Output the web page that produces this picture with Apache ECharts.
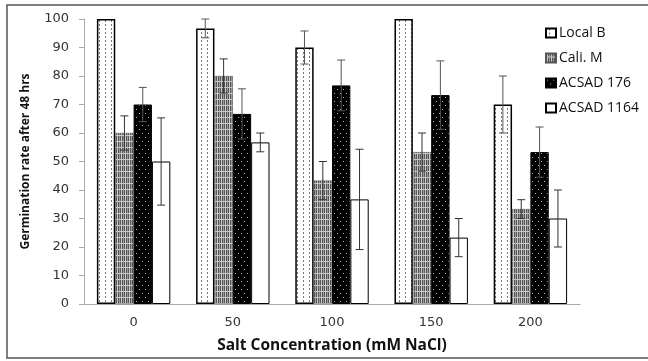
<!DOCTYPE html>
<html><head><meta charset="utf-8">
<script src="https://cdn.jsdelivr.net/npm/echarts@6/dist/echarts.min.js"></script>
<style>html,body{margin:0;padding:0;background:#fff}#c{width:648px;height:361px}</style>
</head><body><div id="c"></div>
<script>
const categories = ['0', '50', '100', '150', '200'];
const seriesNames = ['Local B', 'Cali. M', 'ACSAD 176', 'ACSAD 1164'];
const localB = [100, 96.7, 90, 100, 70];
const caliM = [60, 80, 43.3, 53.3, 33.3];
const acsad176 = [70, 66.7, 76.7, 73.3, 53.3];
const acsad1164 = [50, 56.7, 36.7, 23.3, 30];
const errLocalB = [0, 3.3, 5.8, 0, 10];
const errCaliM = [6, 6, 6.7, 6.7, 3.3];
const errAcsad176 = [6, 8.8, 8.9, 12, 8.8];
const errAcsad1164 = [15.3, 3.3, 17.6, 6.7, 10];
const yTicks = [0, 10, 20, 30, 40, 50, 60, 70, 80, 90, 100];

function pat(w, h, bg, draw) {
  const c = document.createElement('canvas'); c.width = w; c.height = h;
  const g = c.getContext('2d'); g.fillStyle = bg; g.fillRect(0, 0, w, h); draw(g); return c;
}
const patLocal = pat(6, 4, '#ffffff', g => { g.fillStyle = '#777'; g.fillRect(3, 0, 1, 2); });
const patCali = pat(4, 6, '#9a9a9a', g => { g.fillStyle = '#555'; g.fillRect(0, 0, 1, 6); g.fillRect(2, 0, 1, 6); g.fillStyle = '#c8c8c8'; g.fillRect(1, 0, 1, 6); g.fillRect(0, 3, 4, 1); });
const patBlack = pat(6, 8, '#000000', g => { g.fillStyle = '#bbb'; g.fillRect(1, 1, 1, 1); g.fillRect(4, 5, 1, 1); });

const values = [localB, caliM, acsad176, acsad1164];
const errs = [errLocalB, errCaliM, errAcsad176, errAcsad1164];
const styles = [
  { color: { image: patLocal, repeat: 'repeat' }, borderColor: '#000', borderWidth: 1.5 },
  { color: { image: patCali, repeat: 'repeat' }, borderColor: '#555', borderWidth: 0.5 },
  { color: { image: patBlack, repeat: 'repeat' }, borderColor: '#000', borderWidth: 1 },
  { color: '#ffffff', borderColor: '#000', borderWidth: 1 }
];
const gapPct = 0.26;
const series = seriesNames.map((n, i) => ({
  name: n, type: 'bar', data: values[i], barGap: '0%', barCategoryGap: (gapPct * 100) + '%',
  itemStyle: styles[i], z: 2
}));
const errData = [];
errs.forEach((arr, s) => arr.forEach((e, c) => { if (e > 0) errData.push([c, s, values[s][c], e]); }));
series.push({
  type: 'custom', z: 5, silent: true, data: errData,
  renderItem: function (params, api) {
    const c = api.value(0), s = api.value(1), v = api.value(2), e = api.value(3);
    const bw = api.size([1, 0])[0] * (1 - gapPct) / 4;
    const center = api.coord([c, v]);
    const x = center[0] + (s - 1.5) * bw;
    const top = api.coord([c, v + e])[1], bot = api.coord([c, v - e])[1];
    const cap = 4;
    const st = { stroke: s === 1 || s === 3 ? '#333' : '#555', lineWidth: 1 };
    return { type: 'group', children: [
      { type: 'line', shape: { x1: x, y1: top, x2: x, y2: bot }, style: st },
      { type: 'line', shape: { x1: x - cap, y1: top, x2: x + cap, y2: top }, style: st },
      { type: 'line', shape: { x1: x - cap, y1: bot, x2: x + cap, y2: bot }, style: st }
    ]};
  }
});

const chart = echarts.init(document.getElementById('c'));
chart.setOption({
  animation: false,
  backgroundColor: '#fff',
  graphic: [{ type: 'rect', shape: { x: 7, y: 5, width: 660, height: 353 }, style: { fill: 'none', stroke: '#555', lineWidth: 1.5 }, z: -1 }],
  grid: { left: 84, right: 68, top: 19, bottom: 57 },
  legend: {
    orient: 'vertical', left: 540, top: 21, itemWidth: 10, itemHeight: 9, itemGap: 11, icon: 'rect',
    textStyle: { fontFamily: 'Open Sans', fontSize: 14, color: '#111', padding: [0, 0, 0, -2] },
    data: seriesNames
  },
  xAxis: {
    type: 'category', data: categories,
    axisLine: { lineStyle: { color: '#aaa' } },
    axisTick: { alignWithLabel: false, length: 5, lineStyle: { color: '#aaa' } },
    axisLabel: { fontFamily: 'DejaVu Sans', fontSize: 13, color: '#333', margin: 12 },
    name: 'Salt Concentration (mM NaCl)', nameLocation: 'middle', nameGap: 34,
    nameTextStyle: { fontFamily: 'Open Sans', fontWeight: 'bold', fontSize: 15.5, color: '#111' }
  },
  yAxis: {
    type: 'value', min: 0, max: 100, interval: 10,
    axisLine: { show: true, lineStyle: { color: '#aaa' } },
    axisTick: { show: true, length: 5, lineStyle: { color: '#aaa' } },
    splitLine: { show: false },
    axisLabel: { fontFamily: 'DejaVu Sans', fontSize: 13, color: '#333', margin: 15,
      formatter: v => yTicks.includes(v) ? String(v) : '' },
    name: 'Germination rate after 48 hrs', nameLocation: 'middle', nameGap: 52, nameRotate: 90,
    nameTextStyle: { fontFamily: 'Open Sans', fontWeight: 'bold', fontSize: 12, color: '#111' }
  },
  series: series
});
</script></body></html>
